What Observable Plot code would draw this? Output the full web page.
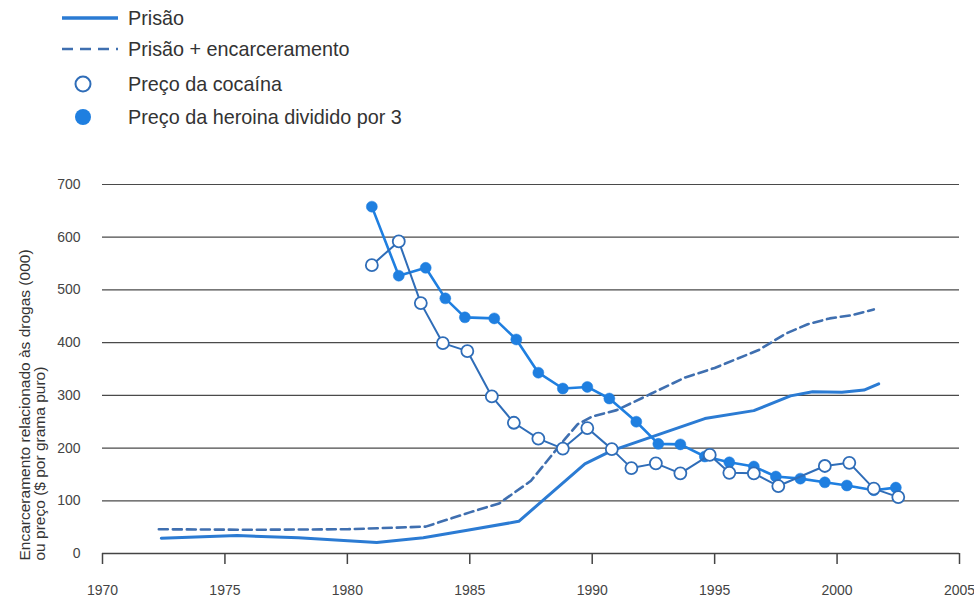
<!DOCTYPE html>
<html>
<head>
<meta charset="utf-8">
<script src="https://cdn.jsdelivr.net/npm/d3@7"></script>
<script src="https://cdn.jsdelivr.net/npm/@observablehq/plot@0.6"></script>
<style>
  html, body { margin: 0; padding: 0; background: #fff; }
  body { width: 974px; height: 598px; overflow: hidden; font-family: "Liberation Sans", Arial, sans-serif; }
  #legend { position: relative; height: 150px; }
  .row { position: absolute; left: 0; height: 26px; display: flex; align-items: center; }
  .row svg { position: absolute; left: 58px; top: 0; }
  .row span { position: absolute; left: 128px; white-space: nowrap; font-size: 19.8px; color: #333; line-height: 26px; top: 0; }
</style>
</head>
<body>
<div id="legend"></div>
<div id="chart"></div>
<script>
// ---- data ----
const legendLabels = ["Prisão", "Prisão + encarceramento", "Preço da cocaína", "Preço da heroina dividido por 3"];
const yTitle1 = "Encarceramento relacionado às drogas (000)";
const yTitle2 = "ou preço ($ por grama puro)";

const xTicks = [1970, 1975, 1980, 1985, 1990, 1995, 2000, 2005];
const yTicks = [0, 100, 200, 300, 400, 500, 600, 700];

const prisonYears  = [1972.4, 1975.5, 1978, 1981.2, 1983.1, 1984.9, 1987, 1989.7, 1990.8, 1994.6, 1996.6, 1998.1, 1999, 2000.2, 2001.1, 2001.7];
const prisonValues = [29, 34, 30, 21, 30, 44, 61, 170, 195, 256, 271, 299, 307, 306, 310, 322];

const jailYears  = [1972.3, 1976, 1980, 1983.2, 1985, 1986.2, 1987.5, 1988.9, 1989.4, 1990, 1991, 1992.4, 1993.8, 1995, 1996.8, 1997.9, 1998.8, 1999.7, 2000.6, 2001.5];
const jailValues = [46, 45, 46, 51, 78, 95, 138, 218, 245, 260, 272, 303, 334, 352, 386, 417, 435, 446, 452, 463];

const cocaineYears  = [1981.0, 1982.1, 1983.0, 1983.9, 1984.9, 1985.9, 1986.8, 1987.8, 1988.8, 1989.8, 1990.8, 1991.6, 1992.6, 1993.6, 1994.8, 1995.6, 1996.6, 1997.6, 1999.5, 2000.5, 2001.5, 2002.5];
const cocaineValues = [547, 592, 475, 399, 384, 298, 248, 218, 199, 238, 198, 162, 171, 152, 187, 153, 152, 128, 166, 172, 123, 107];

const heroinYears  = [1981.0, 1982.1, 1983.2, 1984.0, 1984.8, 1986.0, 1986.9, 1987.8, 1988.8, 1989.8, 1990.7, 1991.8, 1992.7, 1993.6, 1994.6, 1995.6, 1996.6, 1997.5, 1998.5, 1999.5, 2000.4, 2001.5, 2002.4];
const heroinValues = [658, 527, 542, 484, 448, 446, 406, 343, 313, 316, 294, 250, 208, 207, 184, 173, 165, 146, 142, 135, 129, 120, 125];

// ---- styles ----
const cSolid = "#2b7bd3";
const cDash = "#3f6fb0";
const cHeroin = "#1f7fe0";
const cCoke = "#2f6db8";

const toRows = (xs, ys) => xs.map((x, i) => ({x, y: ys[i]}));
const prison = toRows(prisonYears, prisonValues);
const jail = toRows(jailYears, jailValues);
const cocaine = toRows(cocaineYears, cocaineValues);
const heroin = toRows(heroinYears, heroinValues);

// ---- legend ----
const legendCenters = [18, 49, 84, 117];
const legend = document.getElementById("legend");
const swatches = [
  `<line x1="4" x2="60" y1="13" y2="13" stroke="${cSolid}" stroke-width="3.5"/>`,
  `<line x1="4" x2="60" y1="13" y2="13" stroke="${cDash}" stroke-width="2.5" stroke-dasharray="11,7"/>`,
  `<circle cx="25" cy="13" r="7.5" fill="#fff" stroke="${cCoke}" stroke-width="2"/>`,
  `<circle cx="25" cy="13" r="8" fill="${cHeroin}"/>`
];
legendLabels.forEach((lab, i) => {
  const row = document.createElement("div");
  row.className = "row";
  row.style.top = (legendCenters[i] - 13) + "px";
  row.innerHTML = `<svg width="64" height="26">${swatches[i]}</svg><span>${lab}</span>`;
  legend.appendChild(row);
});

// ---- chart ----
const chart = Plot.plot({
  width: 974,
  height: 448,
  marginTop: 34,
  marginBottom: 45,
  marginLeft: 102,
  marginRight: 15,
  x: {domain: [1970, 2005]},
  y: {domain: [0, 700]},
  style: {fontFamily: "'Liberation Sans', Arial, sans-serif", background: "#fff", color: "#333"},
  marks: [
    Plot.ruleY(yTicks.filter(d => d > 0), {stroke: "#4a4a4a", strokeWidth: 1.2}),
    Plot.ruleY([0], {stroke: "#444", strokeWidth: 1.3}),
    Plot.axisX({ticks: xTicks, tickSize: 11, tickPadding: 21, tickFormat: d => String(d), fontSize: 14, label: null, color: "#444", strokeWidth: 1.5}),
    Plot.axisY({ticks: yTicks, tickSize: 0, tickPadding: 22, fontSize: 14, label: null, color: "#444"}),
    Plot.text([yTitle1], {text: d => d, frameAnchor: "bottom-left", rotate: -90, textAnchor: "start", dx: -73, dy: 7, fontSize: 15.5, fill: "#333"}),
    Plot.text([yTitle2], {text: d => d, frameAnchor: "bottom-left", rotate: -90, textAnchor: "start", dx: -58, dy: 7, fontSize: 15.5, fill: "#333"}),
    Plot.line(jail, {x: "x", y: "y", stroke: cDash, strokeWidth: 2.6, strokeDasharray: "9,5", curve: "linear"}),
    Plot.line(prison, {x: "x", y: "y", stroke: cSolid, strokeWidth: 3, curve: "linear"}),
    Plot.line(heroin, {x: "x", y: "y", stroke: cHeroin, strokeWidth: 2.6}),
    Plot.dot(heroin, {x: "x", y: "y", r: 5.5, fill: cHeroin, stroke: cHeroin, strokeWidth: 0.5}),
    Plot.line(cocaine, {x: "x", y: "y", stroke: cCoke, strokeWidth: 2}),
    Plot.dot(cocaine, {x: "x", y: "y", r: 6, fill: "#fff", stroke: cCoke, strokeWidth: 1.8})
  ]
});
document.getElementById("chart").appendChild(chart);
</script>
</body>
</html>
